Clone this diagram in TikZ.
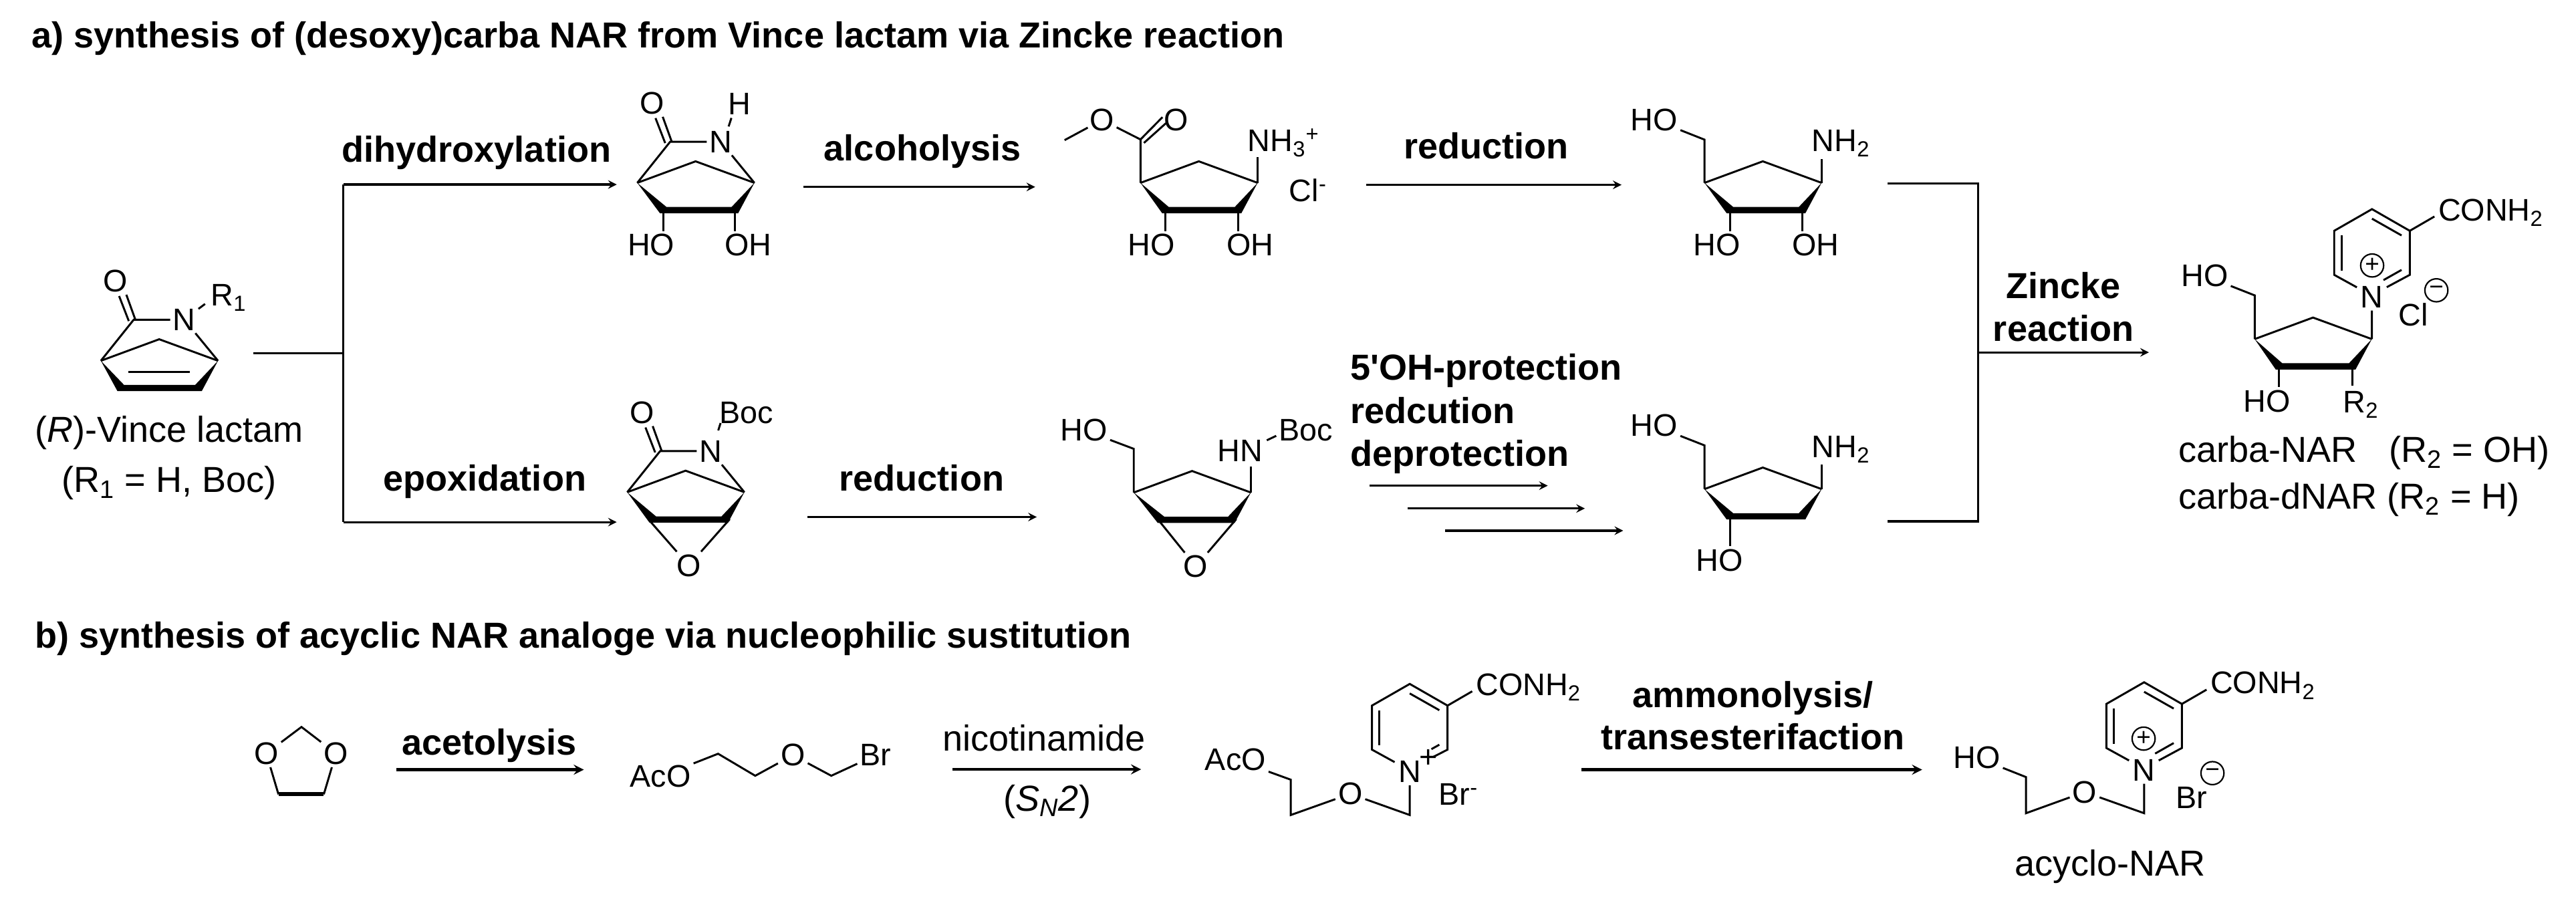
\documentclass[tikz,border=0pt]{standalone}
\usepackage{fontspec}
\setmainfont{Liberation Sans}
\tikzset{>=stealth}
\tikzset{
    bond/.style={line width=1.2pt},
    rxn/.style={->, line width=1.3pt},
    rxnb/.style={->, line width=1.7pt},
    brack/.style={line width=1.4pt},
    atom/.style={inner sep=1.5pt, font=\fontsize{19}{20}\selectfont},
    atomb/.style={inner sep=0pt, anchor=base west, font=\fontsize{19}{20}\selectfont},
    lab/.style={inner sep=0pt, anchor=base, font=\fontsize{22}{24}\selectfont},
    labl/.style={lab, anchor=base west},
    cond/.style={lab, font=\fontsize{22}{24}\selectfont\bfseries},
    condl/.style={cond, anchor=base west},
    chg/.style={circle, draw, line width=0.9pt, inner sep=0pt, minimum size=14pt, font=\fontsize{15}{15}\selectfont}
}
% five-membered ring with wedge front
\newcommand{\cyclo}[4]{
    \begin{scope}[shift={(#2,#3)}]
    \coordinate (#1l) at (0,0);
    \coordinate (#1t) at (35.5,-13.1);
    \coordinate (#1r) at (71.3,0);
    \coordinate (#1bl) at (#4,16.6);
    \coordinate (#1br) at (59.4,16.6);
    \draw[bond] (#1l) -- (#1t) -- (#1r);
    \fill (#1l) -- ([shift={(-2,1.9)}]#1bl) -- ([shift={(2,1.9)}]#1br) -- (#1r)
        -- ([shift={(-2,-1.9)}]#1br) -- ([shift={(2,-1.9)}]#1bl) -- cycle;
    \end{scope}
}
% lactam bridge on top of a ring
\newcommand{\lactam}[3]{
    \begin{scope}[shift={(#2,#3)}]
    \node[atom] (#1o) at (8.9,-48.5) {O};
    \node[atom] (#1n) at (50.8,-25) {N};
    \draw[bond] (#1l) -- (20,-25) -- (#1n);
    \draw[bond] (#1n) -- (#1r);
    \draw[bond] (15.5,-40.2) -- (21,-25);
    \draw[bond] (11.1,-39.4) -- (17,-24.2);
    \end{scope}
}
% pyridinium, given by its top corner
\newcommand{\pyrid}[5]{
    \begin{scope}[shift={(#2,#3)}]
    \node[atom] (#1n) at (0,53.5) {N};
    \node[atomb] (#1am) at (40.2,7) {CONH\textsubscript{2}};
    \draw[bond] (-9.2,47.6) -- (-23,40) -- (-23,13.2) -- (0,0) -- (23,13.2) -- (23,40) -- #4;
    \draw[bond] (23,13.2) -- (38,4.5);
    \draw[bond] (-18.6,16) -- (-18.6,37.4);
    \draw[bond] (0,5.8) -- (18,16);
    \draw[bond] (18,37) -- #5;
    \end{scope}
}
\begin{document}
\begin{tikzpicture}[x=1pt, y=-1pt]
    \useasboundingbox (0,0) rectangle (1568,551.7);
    \node[condl] (titlea) at (19,29.2) {a) synthesis of (desoxy)carba NAR from Vince lactam via Zincke reaction};
    \node[condl] (titleb) at (21,394.4) {b) synthesis of acyclic NAR analoge via nucleophilic sustitution};

    % Vince lactam
    \cyclo{vl}{61.4}{219.6}{12.1}
    \lactam{vl}{61.4}{219.6}
    \draw[bond] (78.3,226.5) -- (115.4,226.5);
    \node[atomb] (vlsb) at (128.2,186) {R\textsubscript{1}};
    \draw[bond] (120.8,188) -- (124.8,185);
    \node[lab] (vlname) at (102.9,269) {(\textit{R})-Vince lactam};
    \node[lab] (vlsub) at (102.9,299.8) {(R\textsubscript{1} = H, Boc)};

    % split
    \coordinate (split) at (209,215);
    \coordinate (vlout) at (154,215);
    \coordinate (upin) at (375.4,112.3);
    \coordinate (dnin) at (375.4,317.8);
    \draw[brack] (vlout) -- (split);
    \draw[rxn] (split |- upin) -- (upin);
    \draw[rxn] (split |- dnin) -- (dnin);
    \draw[brack] (split |- upin) -- (split |- dnin);
    \node[cond] (dihyd) at (290,98.8) {dihydroxylation};
    \node[cond] (epox) at (295.1,298.8) {epoxidation};

    % upper row
    \cyclo{da}{387.9}{111.3}{15.8}
    \lactam{da}{387.9}{111.3}
    \node[atom] (dah) at (450.3,63.1) {H};
    \draw[bond] (445.2,71.8) -- (443.5,77);
    \node[atom] (daho) at (396.3,149) {HO};
    \node[atom] (daoh) at (455.3,149) {OH};
    \draw[bond] (dabl) -- (daho.north -| dabl);
    \draw[bond] (dabr) -- (daoh.north -| dabr);

    \coordinate (alca) at (489,113.8);
    \coordinate (alcb) at (630.1,113.8);
    \draw[rxn] (alca) -- (alcb);
    \node[cond] (alc) at (561.5,97.8) {alcoholysis};

    \cyclo{es}{694.2}{111.3}{15.2}
    \node[atom] (esho) at (701,149) {HO};
    \node[atom] (esoh) at (761,149) {OH};
    \draw[bond] (esbl) -- (esho.north -| esbl);
    \draw[bond] (esbr) -- (esoh.north -| esbr);
    \node[atom] (eso) at (670.6,72.9) {O};
    \node[atom] (esk) at (716.1,72.9) {O};
    \node[atomb] (esn) at (759.3,92.2) {NH\textsubscript{3}\textsuperscript{+}};
    \node[atomb] (escl) at (784.6,122.7) {Cl\textsuperscript{-}};
    \draw[bond] (esl) -- (694.2,84.9) -- (eso);
    \draw[bond] (648,85.3) -- (662.1,77.7);
    \draw[bond] (694.2,84.9) -- (707.6,71.3);
    \draw[bond] (696.3,87) -- (709.7,75);
    \draw[bond] (esr) -- (765.5,95.7);

    \coordinate (reda) at (831.5,112.5);
    \coordinate (redb) at (987,112.5);
    \draw[rxn] (reda) -- (redb);
    \node[cond] (red) at (904.6,96.8) {reduction};

    \cyclo{am}{1037.5}{111.3}{15.5}
    \node[atom] (amho) at (1006.9,72.9) {HO};
    \node[atomb] (amn) at (1102.7,92.2) {NH\textsubscript{2}};
    \node[atom] (amhb) at (1045,149) {HO};
    \node[atom] (amoh) at (1105,149) {OH};
    \draw[bond] (aml) -- (1037.5,85) -- (amho);
    \draw[bond] (amr) -- (1108.8,96.8);
    \draw[bond] (ambl) -- (amhb.north -| ambl);
    \draw[bond] (ambr) -- (amoh.north -| ambr);

    % lower row
    \cyclo{ep}{381.8}{299.6}{15.5}
    \lactam{ep}{381.8}{299.6}
    \node[atom] (epb) at (454.3,251.4) {Boc};
    \draw[bond] (437.2,262) -- (438.6,257.5);
    \node[atom] (epx) at (419.3,344.2) {O};
    \draw[bond] (394.6,316) -- (epx);
    \draw[bond] (444.2,316) -- (epx);

    \coordinate (redc) at (491.4,314.7);
    \coordinate (redd) at (631.1,314.7);
    \draw[rxn] (redc) -- (redd);
    \node[cond] (redb2) at (561,298.8) {reduction};

    \cyclo{hb}{690.1}{299.8}{16.6}
    \node[atom] (hbho) at (659.8,261.8) {HO};
    \node[atom] (hbn) at (754.9,274.3) {HN};
    \node[atom] (hbb) at (794.7,261.8) {Boc};
    \node[atom] (hbx) at (727.9,344.8) {O};
    \draw[bond] (hbl) -- (690.1,273.2) -- (hbho);
    \draw[bond] (hbr) -- (761.4,284);
    \draw[bond] (771.1,268) -- (776.8,265.3);
    \draw[bond] (704.7,316) -- (hbx);
    \draw[bond] (752.5,316) -- (hbx);

    \node[condl] (stepa) at (821.7,231.3) {5\textquotesingle OH-protection};
    \node[condl] (stepb) at (821.7,257.7) {redcution};
    \node[condl] (stepc) at (821.7,283.6) {deprotection};
    \coordinate (sa) at (833.5,295.6);
    \coordinate (sb) at (942.1,295.6);
    \coordinate (sc) at (856.8,309.5);
    \coordinate (sd) at (964.7,309.5);
    \coordinate (se) at (879.7,323);
    \coordinate (sf) at (988,323);
    \draw[rxn] (sa) -- (sb);
    \draw[rxn] (sc) -- (sd);
    \draw[rxn] (se) -- (sf);

    \cyclo{dm}{1037.5}{297.7}{15.5}
    \node[atom] (dmho) at (1006.9,259.1) {HO};
    \node[atomb] (dmn) at (1102.7,278.4) {NH\textsubscript{2}};
    \node[atom] (dmhb) at (1046.6,341) {HO};
    \draw[bond] (dml) -- (1037.5,271.1) -- (dmho);
    \draw[bond] (dmr) -- (1108.8,282.6);
    \draw[bond] (dmbl) -- (dmhb.north -| dmbl);

    % Zincke
    \coordinate (bra) at (1149,111.7);
    \coordinate (brb) at (1204.1,111.7);
    \coordinate (brc) at (1204.1,317.3);
    \coordinate (brd) at (1149,317.3);
    \coordinate (zka) at (1204.1,214.5);
    \coordinate (zkb) at (1308,214.5);
    \draw[brack] (bra) -- (brb) -- (brc) -- (brd);
    \draw[rxn] (zka) -- (zkb);
    \node[cond] (zk) at (1256,181.8) {Zincke};
    \node[cond] (zr) at (1256,207.5) {reaction};

    \cyclo{cn}{1372.4}{206.4}{14.8}
    \pyrid{cn}{1443.8}{127.3}{(9,47.5)}{(7,43.2)}
    \node[chg] (cnp) at (1443.9,161.6) {+};
    \node[atom] (cncl) at (1468.9,191.6) {Cl};
    \node[chg] (cnm) at (1483,176.7) {−};
    \node[atom] (cnho) at (1341.9,167.8) {HO};
    \node[atom] (cnhb) at (1379.8,244.1) {HO};
    \node[atomb] (cnsb) at (1426.1,251.1) {R\textsubscript{2}};
    \draw[bond] (cnl) -- (1372.4,179.8) -- (cnho);
    \draw[bond] (cnr) -- (cnn);
    \draw[bond] (cnbl) -- (cnbl |- cnhb.north);
    \draw[bond] (cnbr) -- (1431.8,234.8);
    \node[labl] (cna) at (1325.8,281.2) {carba-NAR};
    \node[labl] (cnb) at (1454,281.2) {(R\textsubscript{2} = OH)};
    \node[labl] (cnc) at (1325.8,310) {carba-dNAR (R\textsubscript{2} = H)};

    % part b
    \node[atom] (dxa) at (162.1,458.6) {O};
    \node[atom] (dxb) at (204.5,458.6) {O};
    \coordinate (dxt) at (183.5,442.5);
    \coordinate (dxl) at (169.5,483.5);
    \coordinate (dxr) at (197.1,483.5);
    \draw[bond] (dxa) -- (dxt) -- (dxb);
    \draw[bond] (dxa) -- (dxl);
    \draw[bond] (dxb) -- (dxr);
    \draw[line width=2.4pt] (dxl) -- (dxr);

    \coordinate (aca) at (241.4,468.5);
    \coordinate (acb) at (355.4,468.5);
    \draw[rxnb] (aca) -- (acb);
    \node[cond] (ace) at (297.8,459.5) {acetolysis};

    \node[atom] (bra1) at (402,472.6) {AcO};
    \node[atom] (brx) at (482.6,459.7) {O};
    \node[atom] (brbr) at (533,459.7) {Br};
    \draw[bond] (bra1) -- (437.1,458.8) -- (459.7,472.2) -- (brx);
    \draw[bond] (brx) -- (506,472.2) -- (brbr);

    \coordinate (nca) at (579.9,468.3);
    \coordinate (ncb) at (694.6,468.3);
    \draw[rxnb] (nca) -- (ncb);
    \node[lab] (nic) at (635.5,457) {nicotinamide};
    \node[lab] (sn) at (637.4,493.6) {(\textit{S\textsubscript{N}2})};

    \pyrid{py}{858.1}{416.3}{(14.4,44.4)}{(13.2,39.7)}
    \node[atom] (pyplus) at (869.4,461.8) {+};
    \node[atom] (pyac) at (752,462.4) {AcO};
    \node[atom] (pyx) at (821.9,483.2) {O};
    \node[atomb] (pybr) at (875.6,490.2) {Br\textsuperscript{-}};
    \draw[bond] (pyac) -- (785.7,474.6) -- (785.7,496.1) -- (pyx);
    \draw[bond] (pyx) -- (858.1,496.1) -- (pyn);

    \coordinate (ama) at (962.7,468.5);
    \coordinate (amb) at (1170,468.5);
    \draw[rxnb] (ama) -- (amb);
    \node[cond] (amm) at (1067,430.6) {ammonolysis/};
    \node[cond] (trn) at (1067,456.3) {transesterifaction};

    \pyrid{ac}{1305.1}{415.3}{(8.9,47.6)}{(6.7,43.4)}
    \node[chg] (acp) at (1304.8,449.6) {+};
    \node[atom] (acho) at (1203.2,461.1) {HO};
    \node[atom] (acx) at (1268.9,482.1) {O};
    \node[atom] (acbr) at (1334,485.5) {Br};
    \node[chg] (acm) at (1346.7,470.6) {−};
    \draw[bond] (acho) -- (1233.2,473) -- (1233.2,495) -- (acx);
    \draw[bond] (acx) -- (1305.1,495) -- (acn);
    \node[lab] (acname) at (1284.4,533.3) {acyclo-NAR};
\end{tikzpicture}
\end{document}
